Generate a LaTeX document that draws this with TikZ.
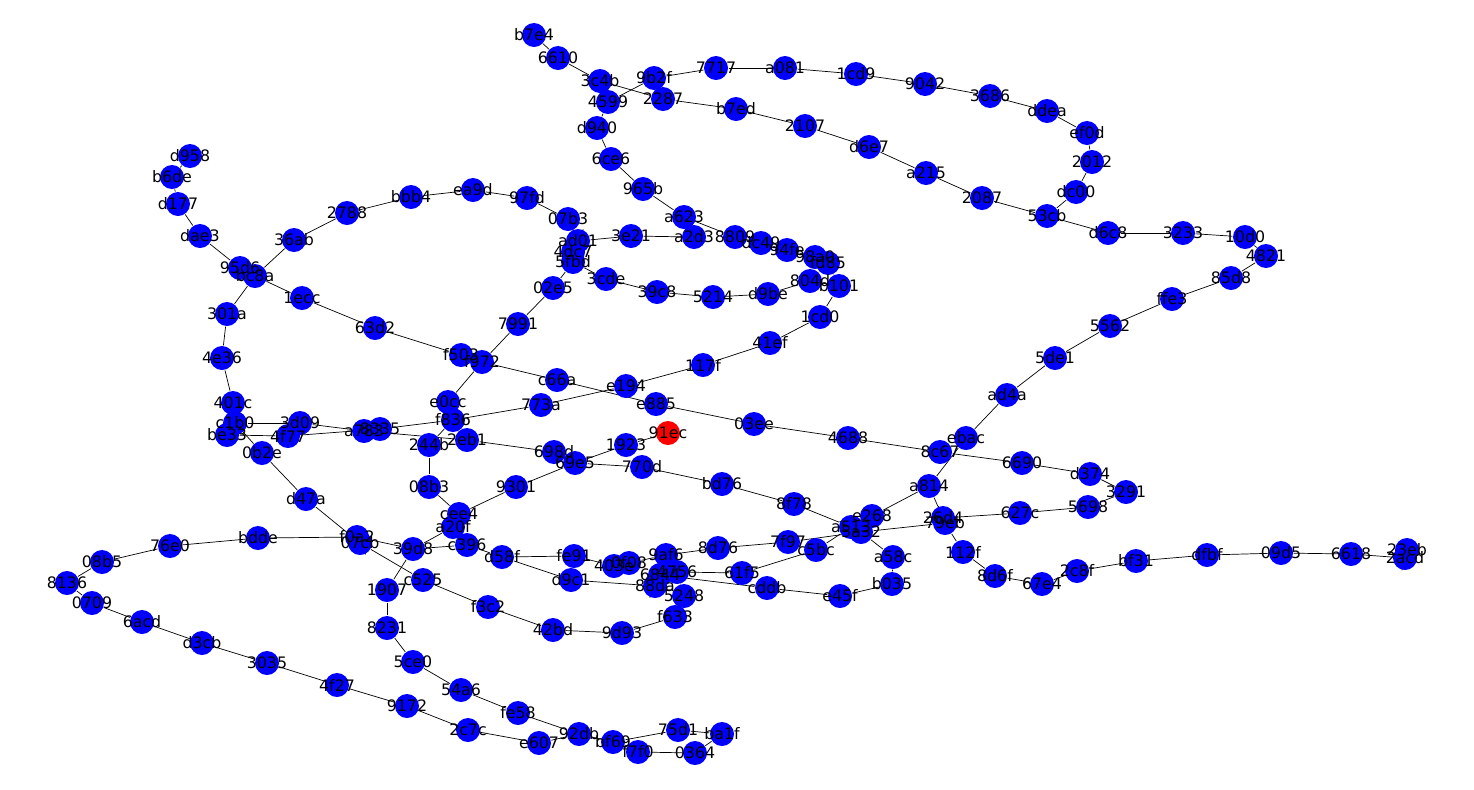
\documentclass[tikz,border=0pt]{standalone}
\usepackage{fontspec}
\setmainfont{DejaVu Sans}
\pgfdeclarelayer{bg}
\pgfdeclarelayer{fg}
\pgfsetlayers{bg,main,fg}

\begin{document}
\begin{tikzpicture}[x=0.02cm,y=-0.02cm,line width=0.8pt,
      vtx/.style={circle,fill=blue,minimum size=0.48cm,inner sep=0pt},
      hot/.style={vtx,fill=red},
      lbl/.style={font=\fontsize{9}{9}\selectfont,inner sep=0pt}]
  \useasboundingbox (0,0) rectangle (1474,789);
  \foreach \n/\x/\y in {d958/190/156,b6de/172/177,d177/178/204,dae3/200/236,95d6/240/268,bc8a/255/276,
      36ab/294/240,2788/347/213,bbb4/411/197,ea9d/473/190,97fd/527/198,1ecc/302/298,301a/227/314,
      63d2/375/328,4e36/222/358,f503/461/355,f972/482/362,7991/518/324,b7e4/534/35,6610/558/58,
      3c4b/600/81,9b2f/654/78,4599/608/102,2287/663/99,7717/716/68,a081/785/68,1cd9/856/74,
      b7ed/736/109,2107/805/126,d6e7/869/147,d940/597/128,6ce6/611/159,965b/643/189,07b3/568/219,
      a623/684/217,ad01/578/241,3e21/631/236,a2d3/694/237,8809/735/237,dc49/761/243,94fe/787/250,
      98a0/815/257,fd85/828/263,4dc7/573/252,5fbd/573/262,3cde/606/279,02e5/553/288,39c8/657/292,
      5214/713/297,d9be/768/294,804d/810/281,b101/839/286,1cd0/820/317,41ef/770/343,117f/703/365,
      c66a/557/380,e194/626/386,773a/541/405,e885/656/404,03ee/754/424,4688/848/438,
      9042/925/84,3686/990/96,ddea/1047/111,ef0d/1087/133,2012/1092/162,dc00/1076/192,a215/926/173,
      2087/982/198,53cb/1047/216,d6c8/1108/233,3233/1183/233,10d0/1245/237,4821/1266/256,
      85d8/1231/278,ffe3/1172/299,5562/1110/326,5de1/1055/358,ad4a/1007/395,ebac/966/438,
      8c67/940/452,6690/1022/463,d374/1090/474,3291/1126/492,5698/1088/507,a814/929/486,
      e268/872/516,a513/851/527,5a32/861/532,26d4/943/518,79eb/945/523,627c/1020/513,
      112f/963/552,8d6f/995/576,67e4/1042/584,2c8f/1077/571,bf31/1136/561,dfbf/1207/555,
      09d5/1281/553,6618/1351/554,23eb/1407/550,2acd/1405/558,a58c/893/557,b035/892/584,
      e45f/840/596,c5bc/816/550,1923/626/445,698d/554/452,69e5/575/463,770d/642/467,
      9301/516/487,bd76/722/484,8f78/794/504,7f97/788/542,fe91/574/556,403e/614/566,
      0f08/629/563,9af6/666/555,8d76/718/548,6844/660/575,4756/677/572,88da/655/586,
      5248/684/596,61f5/742/573,cddb/767/588,d9c1/571/580,f633/675/617,42bd/553/630,
      9d93/622/633,401c/233/403,c1b0/235/423,be33/227/435,3d09/300/423,4f77/288/436,
      0b2e/262/453,a783/364/431,8335/380/429,e0cc/448/402,f836/453/420,2eb1/467/440,
      244b/429/445,08b3/429/487,d47a/306/499,cee4/459/514,a20f/453/527,bdde/258/538,
      f0a2/357/537,07cb/360/543,39d8/413/549,c396/467/545,d58f/502/557,c525/423/580,
      1907/387/590,f3c2/488/607,8231/387/628,5ce0/413/662,54a6/461/690,fe58/518/713,
      92db/579/734,bf69/613/742,e607/539/743,f7f0/638/752,0364/695/753,75d1/678/730,
      ba1f/722/734,2c7c/468/730,9172/407/706,4f27/337/685,3035/267/663,d3cb/202/643,
      6acd/142/622,0709/92/603,8136/67/583,08b5/102/562,76e0/170/546}
    \node[vtx] (n\n) at (\x,\y) {};
  \node[hot] (n91ec) at (668,433) {};
  \begin{pgfonlayer}{bg}
    \foreach \a/\b in {d958/b6de,b6de/d177,d177/dae3,dae3/95d6,95d6/bc8a,bc8a/36ab,36ab/2788,
        2788/bbb4,bbb4/ea9d,ea9d/97fd,97fd/07b3,07b3/ad01,ad01/3e21,3e21/a2d3,ad01/4dc7,
        4dc7/5fbd,5fbd/02e5,02e5/7991,7991/f972,5fbd/3cde,3cde/39c8,39c8/5214,5214/d9be,
        d9be/804d,804d/b101,b101/fd85,fd85/98a0,98a0/94fe,94fe/dc49,dc49/8809,8809/a623,
        a623/965b,965b/6ce6,6ce6/d940,d940/4599,4599/3c4b,4599/9b2f,3c4b/6610,6610/b7e4,
        3c4b/2287,2287/b7ed,b7ed/2107,2107/d6e7,d6e7/a215,a215/2087,2087/53cb,9b2f/7717,
        7717/a081,a081/1cd9,1cd9/9042,9042/3686,3686/ddea,ddea/ef0d,ef0d/2012,2012/dc00,
        dc00/53cb,53cb/d6c8,d6c8/3233,3233/10d0,10d0/4821,4821/85d8,85d8/ffe3,ffe3/5562,
        5562/5de1,5de1/ad4a,ad4a/ebac,ebac/a814,a814/e268,e268/a513,a513/5a32,a814/26d4,
        26d4/79eb,26d4/627c,627c/5698,5698/3291,3291/d374,d374/6690,6690/8c67,8c67/4688,
        4688/03ee,03ee/e885,e885/c66a,c66a/f972,f972/e0cc,f972/f503,f503/63d2,63d2/1ecc,
        1ecc/bc8a,bc8a/301a,301a/4e36,4e36/401c,401c/c1b0,c1b0/be33,c1b0/3d09,be33/4f77,
        c1b0/0b2e,0b2e/d47a,d47a/07cb,07cb/f0a2,f0a2/bdde,bdde/76e0,76e0/08b5,08b5/8136,
        8136/0709,0709/6acd,6acd/d3cb,d3cb/3035,3035/4f27,4f27/9172,9172/2c7c,2c7c/e607,
        e607/92db,92db/bf69,92db/fe58,fe58/54a6,54a6/5ce0,5ce0/8231,8231/1907,1907/39d8,
        39d8/f0a2,39d8/a20f,39d8/c396,a20f/cee4,cee4/08b3,08b3/244b,244b/f836,f836/e0cc,
        f836/773a,773a/e194,e194/117f,117f/41ef,41ef/1cd0,1cd0/b101,3d09/a783,4f77/8335,
        a783/8335,8335/f836,a783/2eb1,2eb1/698d,698d/69e5,69e5/9301,9301/cee4,69e5/1923,
        1923/91ec,69e5/770d,770d/bd76,bd76/8f78,8f78/a513,07cb/c525,c525/f3c2,f3c2/42bd,
        42bd/9d93,9d93/f633,f633/5248,5248/4756,4756/9af6,9af6/0f08,0f08/403e,403e/fe91,
        fe91/d58f,d58f/c396,d58f/d9c1,d9c1/88da,88da/6844,6844/cddb,4756/61f5,61f5/c5bc,
        c5bc/a513,9af6/8d76,8d76/7f97,7f97/5a32,5a32/79eb,5a32/a58c,a58c/b035,b035/e45f,
        e45f/cddb,79eb/112f,112f/8d6f,8d6f/67e4,67e4/2c8f,2c8f/bf31,bf31/dfbf,dfbf/09d5,
        09d5/6618,6618/2acd,2acd/23eb,bf69/75d1,75d1/ba1f,ba1f/0364,0364/f7f0,f7f0/bf69}
      \draw (n\a) -- (n\b);
  \end{pgfonlayer}
  \begin{pgfonlayer}{fg}
    \foreach \n in {d958,b6de,d177,dae3,95d6,bc8a,36ab,2788,bbb4,ea9d,97fd,1ecc,301a,63d2,4e36,
        f503,f972,7991,b7e4,6610,3c4b,9b2f,4599,2287,7717,a081,1cd9,b7ed,2107,d6e7,d940,6ce6,
        965b,07b3,a623,ad01,3e21,a2d3,8809,dc49,94fe,98a0,fd85,4dc7,5fbd,3cde,02e5,39c8,5214,
        d9be,804d,b101,1cd0,41ef,117f,c66a,e194,773a,e885,03ee,4688,91ec,9042,3686,ddea,ef0d,
        2012,dc00,a215,2087,53cb,d6c8,3233,10d0,4821,85d8,ffe3,5562,5de1,ad4a,ebac,8c67,6690,
        d374,3291,5698,a814,e268,a513,5a32,26d4,79eb,627c,112f,8d6f,67e4,2c8f,bf31,dfbf,09d5,
        6618,23eb,2acd,a58c,b035,e45f,c5bc,1923,698d,69e5,770d,9301,bd76,8f78,7f97,fe91,403e,
        0f08,9af6,8d76,6844,4756,88da,5248,61f5,cddb,d9c1,f633,42bd,9d93,401c,c1b0,be33,3d09,
        4f77,0b2e,a783,8335,e0cc,f836,2eb1,244b,08b3,d47a,cee4,a20f,bdde,f0a2,07cb,39d8,c396,
        d58f,c525,1907,f3c2,8231,5ce0,54a6,fe58,92db,bf69,e607,f7f0,0364,75d1,ba1f,2c7c,9172,
        4f27,3035,d3cb,6acd,0709,8136,08b5,76e0}
      \node[lbl] at (n\n) {\n};
  \end{pgfonlayer}
\end{tikzpicture}
\end{document}
